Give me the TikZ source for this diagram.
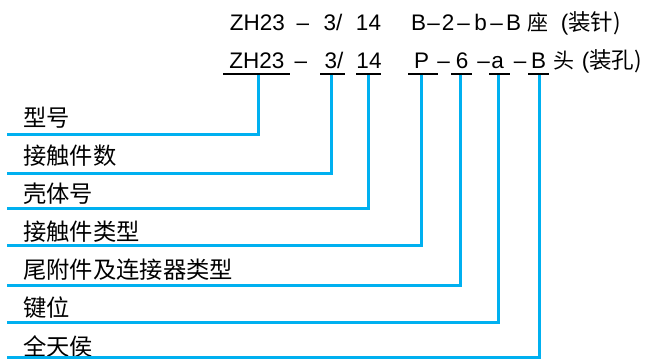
\documentclass[tikz,border=0pt]{standalone}
\usepackage{fontspec}
\setmainfont{Liberation Sans}
\newfontfamily\cjk{Noto Sans CJK SC}
\definecolor{linkblue}{RGB}{0,176,240}
\tikzset{
  tok/.style={inner sep=0pt, anchor=base, font=\fontsize{22.5}{26}\selectfont},
  ctok/.style={inner sep=0pt, anchor=base, font=\cjk\fontsize{21}{26}\selectfont},
  lab/.style={inner sep=0pt, anchor=west, font=\cjk\fontsize{23.3}{27}\selectfont},
  uline/.style={draw=black, line width=2pt},
  conn/.style={draw=linkblue, line width=3pt}
}
\begin{document}
\begin{tikzpicture}[x=1pt,y=-1pt]
\useasboundingbox (0,0) rectangle (652,359);
% row 1
\node[tok] (a1) at (257.5,30) {ZH23};
\node[tok] (a2) at (303,30) {–};
\node[tok] (a3) at (333,30) {3/};
\node[tok] (a4) at (368.5,30) {14};
\node[tok] (a5) at (418.5,30) {B};
\node[tok] (a6) at (433.5,30) {–};
\node[tok] (a7) at (448,30) {2};
\node[tok] (a8) at (463.5,30) {–};
\node[tok] (a9) at (480.5,30) {b};
\node[tok] (a10) at (496.5,30) {–};
\node[tok] (a11) at (513.5,30) {B};
\node[ctok] (a12) at (538,30) {座};
\node[tok] (a13) at (591,30) {(\cjk 装针\/)};
% row 2
\node[tok] (t1) at (257,68.5) {ZH23};
\node[tok] (b2) at (301,68.5) {–};
\node[tok] (t2) at (334,68.5) {3/};
\node[tok] (t3) at (369,68.5) {14};
\node[tok] (t4) at (421.5,68.5) {P};
\node[tok] (b5) at (443.5,68.5) {–};
\node[tok] (t5) at (462,68.5) {6};
\node[tok] (b6) at (483.5,68.5) {–};
\node[tok] (t6) at (497.5,68.5) {a};
\node[tok] (b7) at (520,68.5) {–};
\node[tok] (t7) at (538.5,68.5) {B};
\node[ctok] (b8) at (563.5,68.5) {头};
\node[tok] (b9) at (612,68.5) {(\cjk 装孔\/)};
% underlines
\draw[uline] (223,73.5) -- (290,73.5);
\draw[uline] (320,73.5) -- (345,73.5);
\draw[uline] (356,73.5) -- (381,73.5);
\draw[uline] (408,73.5) -- (438,73.5);
\draw[uline] (451,73.5) -- (472,73.5);
\draw[uline] (489,73.5) -- (510,73.5);
\draw[uline] (528,73.5) -- (549,73.5);
% top ends of connectors
\coordinate (s1) at (258,74.5);
\coordinate (s2) at (331,74.5);
\coordinate (s3) at (368.5,74.5);
\coordinate (s4) at (421.5,74.5);
\coordinate (s5) at (460.5,74.5);
\coordinate (s6) at (498,74.5);
\coordinate (s7) at (539,74.5);
% left ends of connectors
\coordinate (e1) at (7,134);
\coordinate (e2) at (7,173);
\coordinate (e3) at (7,208.5);
\coordinate (e4) at (7,245.5);
\coordinate (e5) at (7,285.5);
\coordinate (e6) at (7,322);
\coordinate (e7) at (7,357.5);
% labels
\node[lab] (l1) at (23,117.5) {型号};
\node[lab] (l2) at (23,155.6) {接触件数};
\node[lab] (l3) at (23,193.7) {壳体号};
\node[lab] (l4) at (23,231.8) {接触件类型};
\node[lab] (l5) at (23,269.9) {尾附件及连接器类型};
\node[lab] (l6) at (23,308) {键位};
\node[lab] (l7) at (23,346.1) {全天侯};
% connectors
\foreach \i in {1,...,7} {
  \draw[conn] (s\i) |- (e\i);
}
\end{tikzpicture}
\end{document}
